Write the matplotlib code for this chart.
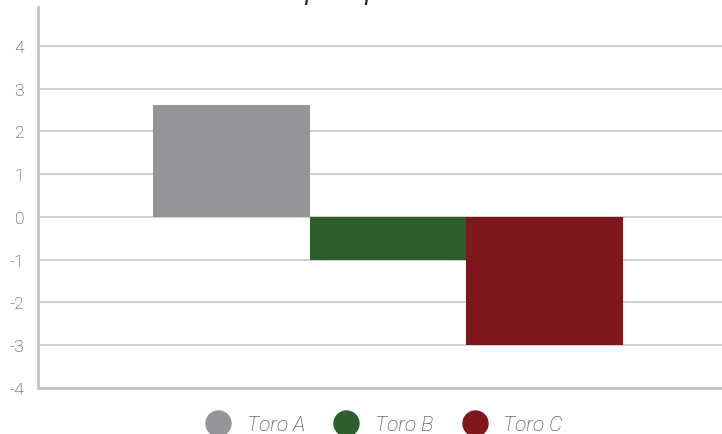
import numpy as np
import matplotlib.pyplot as plt
from matplotlib.lines import Line2D

series = ["Toro A", "Toro B", "Toro C"]
values = [2.62, -1.0, -3.0]
colors = ["#949599", "#2d5e2e", "#7e181d"]
yticks = [-4, -3, -2, -1, 0, 1, 2, 3, 4]

plt.rcParams["font.family"] = ["Roboto", "DejaVu Sans"]

W, H = 722, 435
fig = plt.figure(figsize=(W / 100, H / 100), dpi=100)
ax = fig.add_axes([38 / W, 46 / H, (W - 38) / W, (389 - 8) / H])

# one category, three series side by side
bar_w = 1.0
offsets = (np.arange(len(series)) - 1) * bar_w
for off, val, col in zip(offsets, values, colors):
    ax.bar(off, val, width=bar_w, color=col, zorder=3, align="center")

ax.set_xlim(-2.236, 2.134)
ax.set_ylim(-4, 4.91)
ax.set_yticks(yticks)
ax.set_yticklabels([str(t) for t in yticks], fontsize=12.5, fontweight="light", color="#333333")
ax.set_xticks([])
ax.tick_params(axis="y", length=0, pad=10)
ax.yaxis.grid(True, color="#cccccc", linewidth=1.3, zorder=0)
ax.set_axisbelow(True)

for s in ["top", "right"]:
    ax.spines[s].set_visible(False)
for s in ["left", "bottom"]:
    ax.spines[s].set_color("#c4c4c6")
    ax.spines[s].set_linewidth(2)

# title mostly cut off at the top edge
fig.text(0.472, 1.0, "Desempeño por toro", ha="center", va="baseline",
         fontsize=18, style="italic", color="#222222")

handles = [Line2D([0], [0], marker="o", linestyle="", markersize=18,
                  markerfacecolor=c, markeredgecolor=c) for c in colors]
fig.legend(handles, series, loc="center", bbox_to_anchor=(0.526, 0.022),
           ncol=3, frameon=False, handletextpad=0.35, columnspacing=1.0,
           prop={"size": 15, "style": "italic", "weight": "light"},
           labelcolor="#333333")

fig.savefig("out.png", dpi=100)
